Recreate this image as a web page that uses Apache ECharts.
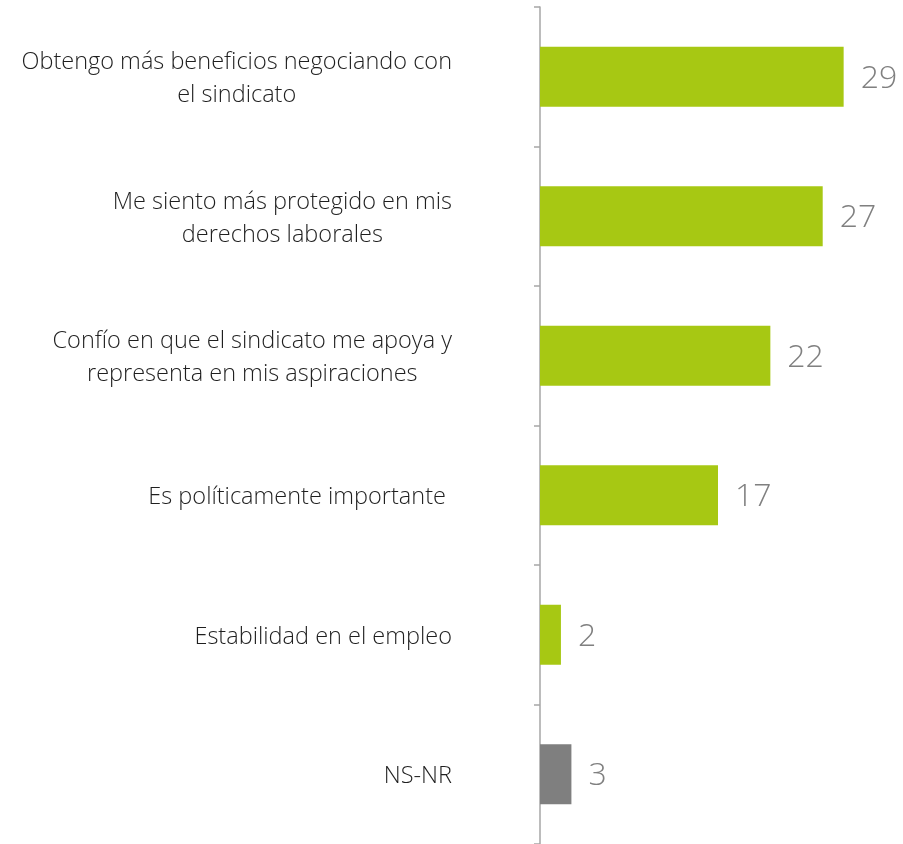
<!DOCTYPE html>
<html>
<head>
<meta charset="utf-8">
<script src="https://cdn.jsdelivr.net/npm/echarts@6/dist/echarts.min.js"></script>
<style>
html,body{margin:0;padding:0;background:#fff;}
#chart{width:903px;height:844px;}
</style>
</head>
<body>
<div id="chart"></div>
<script>
const categories = [
  "Obtengo más beneficios negociando con\nel sindicato",
  "Me siento más protegido en mis\nderechos laborales",
  "Confío en que el sindicato me apoya y\nrepresenta en mis aspiraciones",
  "Es políticamente importante ",
  "Estabilidad en el empleo",
  "NS-NR"
];
const values = [29, 27, 22, 17, 2, 3];

const GREEN = '#a7c813';
const GRAY = '#7f7f7f';

const chart = echarts.init(document.getElementById('chart'), null, {renderer: 'canvas'});
const option = {
  animation: false,
  grid: {left: 540, right: 7, top: 7, bottom: 0, containLabel: false},
  xAxis: {type: 'value', min: 0, max: 34, show: false},
  yAxis: {
    type: 'category',
    inverse: true,
    data: categories,
    axisLine: {show: true, lineStyle: {color: '#a6a6a6', width: 1.5}},
    axisTick: {show: true, length: 6, lineStyle: {color: '#a6a6a6', width: 1.5}},
    axisLabel: {
      margin: 88,
      align: 'right',
      fontFamily: 'Open Sans',
      fontWeight: 300,
      fontSize: 23.5,
      color: '#1f1f1f',
      padding: [5, 0, 0, 0],
      formatter: function (v) {
        return v.split('\n').map(function (s) { return '{c|' + s + '}'; }).join('\n');
      },
      rich: {
        c: {align: 'center', fontFamily: 'Open Sans', fontWeight: 300, fontSize: 23.5, color: '#1f1f1f', lineHeight: 33}
      }
    }
  },
  series: [{
    type: 'bar',
    barWidth: 60,
    data: values.map(function (v, i) {
      return {value: v, itemStyle: {color: categories[i] === 'NS-NR' ? GRAY : GREEN}};
    }),
    label: {
      show: true,
      position: 'right',
      distance: 17,
      offset: [0, 2],
      fontFamily: 'Open Sans',
      fontWeight: 300,
      fontSize: 32,
      color: '#808080'
    }
  }]
};
chart.setOption(option);
</script>
</body>
</html>
